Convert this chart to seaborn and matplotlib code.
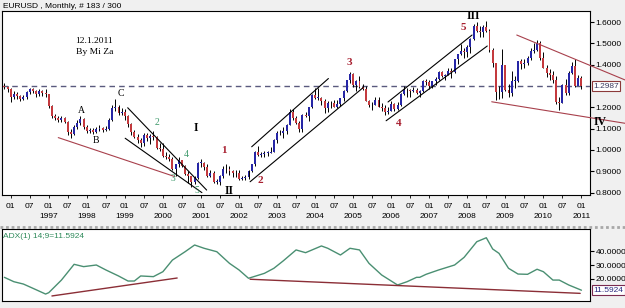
import numpy as np
import pandas as pd
import matplotlib
matplotlib.use("Agg")
import matplotlib.pyplot as plt
import matplotlib.transforms as mtransforms
from matplotlib.lines import Line2D
import seaborn as sns

# ---------------- data (monthly EURUSD, Nov 1995 .. Jan 2011) ----------------
first_open = 1.300
closes = [1.295, 1.285,
          1.250, 1.262, 1.255, 1.240, 1.248, 1.270, 1.285, 1.278, 1.262, 1.275, 1.268, 1.262,
          1.205, 1.160, 1.150, 1.140, 1.150, 1.130, 1.085, 1.075, 1.110, 1.125, 1.145, 1.110,
          1.090, 1.095, 1.082, 1.098, 1.105, 1.095, 1.100, 1.140, 1.195, 1.200, 1.175, 1.180,
          1.160, 1.120, 1.085, 1.060, 1.045, 1.035, 1.070, 1.055, 1.065, 1.060, 1.010, 1.005,
          0.970, 0.965, 0.957, 0.912, 0.933, 0.955, 0.925, 0.888, 0.880, 0.850, 0.870, 0.940,
          0.940, 0.922, 0.880, 0.890, 0.850, 0.850, 0.877, 0.912, 0.910, 0.903, 0.890, 0.890,
          0.862, 0.868, 0.872, 0.902, 0.933, 0.992, 0.975, 0.980, 0.986, 0.988, 0.992, 1.049,
          1.080, 1.078, 1.090, 1.118, 1.180, 1.150, 1.125, 1.100, 1.165, 1.160, 1.200, 1.259,
          1.245, 1.245, 1.230, 1.198, 1.220, 1.218, 1.202, 1.217, 1.242, 1.277, 1.327, 1.357,
          1.303, 1.324, 1.296, 1.287, 1.230, 1.210, 1.213, 1.233, 1.203, 1.199, 1.179, 1.184,
          1.216, 1.192, 1.211, 1.262, 1.283, 1.279, 1.276, 1.281, 1.267, 1.276, 1.324, 1.320,
          1.300, 1.323, 1.335, 1.366, 1.345, 1.353, 1.368, 1.365, 1.426, 1.449, 1.463, 1.459,
          1.485, 1.518, 1.579, 1.559, 1.555, 1.575, 1.560, 1.467, 1.408, 1.273, 1.270, 1.397,
          1.280, 1.266, 1.325, 1.325, 1.415, 1.404, 1.410, 1.433, 1.464, 1.471, 1.500, 1.432,
          1.386, 1.363, 1.351, 1.330, 1.227, 1.222, 1.305, 1.268, 1.363, 1.393, 1.300, 1.338,
          1.2987]
highs = [1.315, 1.300,
         1.290, 1.275, 1.270, 1.260, 1.258, 1.278, 1.292, 1.290, 1.282, 1.285, 1.282, 1.285,
         1.262, 1.210, 1.170, 1.160, 1.160, 1.155, 1.135, 1.100, 1.115, 1.140, 1.160, 1.150,
         1.115, 1.105, 1.102, 1.110, 1.115, 1.110, 1.112, 1.150, 1.210, 1.240, 1.210, 1.195,
         1.190, 1.165, 1.125, 1.095, 1.075, 1.055, 1.080, 1.080, 1.075, 1.090, 1.065, 1.035,
         1.035, 0.990, 0.980, 0.965, 0.935, 0.965, 0.955, 0.930, 0.900, 0.880, 0.880, 0.945,
         0.960, 0.945, 0.935, 0.905, 0.900, 0.865, 0.885, 0.925, 0.935, 0.925, 0.905, 0.905,
         0.905, 0.880, 0.885, 0.905, 0.935, 0.995, 1.020, 0.990, 0.995, 0.995, 1.015, 1.050,
         1.090, 1.093, 1.110, 1.120, 1.193, 1.190, 1.160, 1.135, 1.167, 1.180, 1.200, 1.262,
         1.290, 1.290, 1.250, 1.240, 1.230, 1.230, 1.235, 1.235, 1.245, 1.280, 1.330, 1.367,
         1.360, 1.330, 1.348, 1.310, 1.300, 1.235, 1.225, 1.250, 1.250, 1.220, 1.210, 1.200,
         1.230, 1.220, 1.225, 1.265, 1.298, 1.290, 1.285, 1.295, 1.290, 1.280, 1.330, 1.335,
         1.327, 1.325, 1.340, 1.368, 1.368, 1.355, 1.385, 1.385, 1.428, 1.450, 1.495, 1.477,
         1.490, 1.525, 1.590, 1.602, 1.580, 1.585, 1.603, 1.565, 1.480, 1.410, 1.300, 1.472,
         1.400, 1.310, 1.370, 1.346, 1.418, 1.425, 1.428, 1.440, 1.478, 1.503, 1.514, 1.510,
         1.458, 1.397, 1.378, 1.370, 1.345, 1.247, 1.310, 1.335, 1.370, 1.412, 1.425, 1.350,
         1.345]
lows = [1.285, 1.270,
        1.225, 1.240, 1.240, 1.228, 1.232, 1.240, 1.262, 1.265, 1.250, 1.255, 1.255, 1.250,
        1.198, 1.150, 1.140, 1.130, 1.132, 1.125, 1.070, 1.055, 1.070, 1.100, 1.115, 1.100,
        1.080, 1.078, 1.075, 1.080, 1.090, 1.085, 1.088, 1.092, 1.138, 1.185, 1.165, 1.165,
        1.140, 1.110, 1.070, 1.055, 1.035, 1.015, 1.020, 1.040, 1.030, 1.045, 1.005, 0.995,
        0.965, 0.960, 0.950, 0.905, 0.880, 0.920, 0.918, 0.885, 0.845, 0.825, 0.840, 0.865,
        0.920, 0.905, 0.875, 0.875, 0.845, 0.840, 0.835, 0.870, 0.890, 0.885, 0.875, 0.875,
        0.858, 0.860, 0.860, 0.865, 0.895, 0.925, 0.970, 0.965, 0.965, 0.970, 0.985, 0.990,
        1.035, 1.070, 1.055, 1.075, 1.115, 1.140, 1.120, 1.085, 1.085, 1.155, 1.135, 1.195,
        1.240, 1.235, 1.210, 1.175, 1.180, 1.195, 1.200, 1.195, 1.205, 1.230, 1.270, 1.315,
        1.295, 1.277, 1.290, 1.280, 1.228, 1.200, 1.187, 1.210, 1.200, 1.185, 1.164, 1.170,
        1.182, 1.185, 1.186, 1.205, 1.260, 1.250, 1.250, 1.270, 1.263, 1.250, 1.270, 1.305,
        1.287, 1.290, 1.305, 1.330, 1.340, 1.330, 1.350, 1.337, 1.360, 1.405, 1.445, 1.430,
        1.438, 1.455, 1.515, 1.551, 1.530, 1.530, 1.555, 1.460, 1.390, 1.233, 1.240, 1.245,
        1.275, 1.250, 1.255, 1.290, 1.320, 1.380, 1.385, 1.400, 1.420, 1.455, 1.464, 1.420,
        1.385, 1.343, 1.327, 1.315, 1.214, 1.188, 1.218, 1.260, 1.260, 1.358, 1.297, 1.310,
        1.286]
current_price = 1.2987

# ADX(14) readings (bar index, value)
adx_bar = [0, 3, 6, 9, 13, 14, 18, 22, 25, 29, 32, 36, 39, 41, 43, 47, 50, 53, 57, 60,
           63, 67, 71, 74, 77, 82, 85, 88, 92, 95, 100, 102, 106, 109, 112, 115, 119, 124, 127, 130,
           131, 133, 137, 142, 145, 149, 152, 154, 156, 159, 162, 165, 168, 170, 173, 175, 178, 182]
adx_val = [21.0, 17.8, 16.1, 13.0, 8.8, 9.8, 19.0, 30.5, 28.8, 30.0,
           26.4, 22.0, 18.3, 18.3, 22.0, 21.5, 25.1, 33.6, 39.7, 44.6,
           42.2, 39.7, 31.2, 26.4, 20.3, 23.9, 27.6, 33.1, 41.0, 39.0,
           43.9, 42.2, 37.3, 42.2, 41.0, 31.2, 22.7, 15.4, 17.8, 21.0,
           21.0, 23.2, 26.4, 30.0, 35.6, 47.0, 49.9, 41.7, 38.5, 27.6,
           23.4, 23.2, 26.9, 25.1, 19.0, 19.0, 15.4, 11.6]
adx_last = 11.5924

# hand-drawn trend lines: (bar0, price0, bar1, price1, colour-key)
main_lines = [(17.0, 1.058, 53.8, 0.875, "brown"),
              (38.9, 1.198, 63.8, 0.812, "black"),
              (38.1, 1.055, 62.3, 0.800, "black"),
              (78.0, 1.015, 102.2, 1.335, "black"),
              (77.5, 0.851, 113.2, 1.293, "black"),
              (121.0, 1.225, 147.5, 1.539, "black"),
              (120.4, 1.137, 152.3, 1.4875, "black"),
              (161.6, 1.539, 195.8, 1.328, "brown"),
              (153.7, 1.226, 195.8, 1.125, "brown")]
adx_lines = [(15.0, 7.4, 54.5, 20.5), (77.5, 19.6, 181.6, 9.3)]

# wave labels: (text, bar, price, style)
wave_labels = [("12.1.2011", 28.3, 1.512, "note"), ("By Mi Za", 28.6, 1.458, "note"),
               ("A", 24.2, 1.183, "abc"), ("B", 28.8, 1.0435, "abc"), ("C", 36.8, 1.2625, "abc"),
               ("I", 60.4, 1.1045, "roman"), ("II", 70.8, 0.806, "roman"),
               ("III", 147.9, 1.626, "roman"), ("IV", 187.9, 1.133, "roman"),
               ("2", 48.1, 1.130, "green"), ("3", 53.3, 0.867, "green"),
               ("4", 57.3, 0.981, "green"), ("5", 60.7, 0.809, "green"),
               ("1", 69.3, 0.997, "red"), ("2", 80.6, 0.859, "red"), ("3", 108.8, 1.411, "red"),
               ("4", 124.3, 1.122, "red"), ("5", 144.8, 1.572, "red")]

price_ticks = [0.8, 0.9, 1.0, 1.1, 1.2, 1.4, 1.5, 1.6]
adx_ticks = [20, 30, 40]

# ---------------- styling ----------------
sns.set_style("white")
plt.rcParams['font.family'] = ['Liberation Sans', 'DejaVu Sans']

BG = "#f0f0f0"
UP = "#2626a6"
DOWN = "#c43a3e"
BROWN = "#a8404c"
GREEN_TXT = "#3f9a6c"
RED_TXT = "#a82030"

n = len(closes)
opens = [first_open] + closes[:-1]
df = pd.DataFrame({"bar": np.arange(n),
                   "date": pd.date_range("1995-11-01", periods=n, freq="MS"),
                   "open": opens, "high": highs, "low": lows, "close": closes})
df["up"] = df["close"] >= df["open"]

W, H = 625, 308
fig = plt.figure(figsize=(W / 100, H / 100), dpi=100, facecolor=BG)


def box(l, t, r, b):
    return [l / W, 1 - b / H, (r - l) / W, (b - t) / H]


ax = fig.add_axes(box(2, 11, 590, 195))
ax2 = fig.add_axes(box(2, 229, 590, 301))
for a in (ax, ax2):
    a.set_facecolor("white")
    for s in a.spines.values():
        s.set_color("black")
        s.set_linewidth(0.8)

# ---------------- candles ----------------
ax.vlines(df["bar"], df["low"], df["high"], color="black", lw=0.7, zorder=2)
body_lo = np.minimum(df["open"], df["close"])
body_h = np.maximum(np.abs(df["close"] - df["open"]), 0.003)
ax.bar(df["bar"], body_h, bottom=body_lo, width=0.62,
       color=np.where(df["up"], UP, DOWN), linewidth=0, zorder=3)

ax.axhline(current_price, color="#5a5a7e", lw=1.0, ls=(0, (4, 3)), zorder=1)

for b0, p0, b1, p1, c in main_lines:
    ax.plot([b0, b1], [p0, p1], color=BROWN if c == "brown" else "black",
            lw=0.8, clip_on=False, zorder=4)

styles = {
    "note": dict(family=["Liberation Serif", "DejaVu Serif"], fontsize=6.8, color="black"),
    "abc": dict(family=["Liberation Serif", "DejaVu Serif"], fontsize=7, color="black"),
    "roman": dict(family=["Liberation Serif", "DejaVu Serif"], fontsize=8.5, color="black",
                  fontweight="bold"),
    "green": dict(family=["Liberation Serif", "DejaVu Serif"], fontsize=7, color=GREEN_TXT),
    "red": dict(family=["Liberation Serif", "DejaVu Serif"], fontsize=8, color=RED_TXT,
                fontweight="bold"),
}
for txt, b, p, st in wave_labels:
    ax.text(b, p, txt, ha="center", va="center", clip_on=False, zorder=6, **styles[st])

ax.set_xlim(-0.745, 184.7)
ax.set_ylim(0.7889, 1.6516)

# y axis on the right
ax.yaxis.tick_right()
ax.set_yticks(price_ticks)
ax.set_yticklabels([f"{v:.4f}" for v in price_ticks])
ax.tick_params(axis="y", which="both", right=True, left=False, direction="out",
               length=3, width=0.8, pad=1, labelsize=6, colors="black")
trans = mtransforms.blended_transform_factory(ax.transAxes, ax.transData)
ax.text(1.0055, current_price, f"{current_price:.4f}", transform=trans, ha="left", va="center",
        fontsize=6, color="#3a3a60",
        bbox=dict(boxstyle="square,pad=0.18", fc="white", ec="#8b3a3a", lw=0.8), zorder=7)

# x axis ticks: Jan / Jul
tick_pos, tick_lab = [], []
for b, d in zip(df["bar"], df["date"]):
    if d.year >= 1996 and d.month in (1, 7):
        tick_pos.append(b)
        lab = f"{d.month:02d}"
        if d.month == 1 and d.year >= 1997:
            lab += f"\n{d.year}"
        tick_lab.append(lab)
ax.set_xticks(tick_pos)
ax.set_xticklabels(tick_lab, linespacing=1.7)
ax.tick_params(axis="x", bottom=True, direction="out", length=2, width=0.6, pad=3.5,
               labelsize=6, colors="black")
ax.set_xlabel("")
ax.set_ylabel("")

# ---------------- ADX panel ----------------
sns.lineplot(x=adx_bar, y=adx_val, ax=ax2, color="#4a8f72", lw=1.0)
for b0, v0, b1, v1 in adx_lines:
    ax2.plot([b0, b1], [v0, v1], color="#8b2e36", lw=1.0)
ax2.set_xlim(-0.745, 184.7)
ax2.set_ylim(3.72, 56.28)
ax2.set_xticks([])
ax2.yaxis.tick_right()
ax2.set_yticks(adx_ticks)
ax2.set_yticklabels([f"{v:.4f}" for v in adx_ticks])
ax2.tick_params(axis="y", right=True, left=False, direction="out", length=3, width=0.8,
                pad=1, labelsize=6, colors="black")
ax2.set_xlabel("")
ax2.set_ylabel("")
trans2 = mtransforms.blended_transform_factory(ax2.transAxes, ax2.transData)
ax2.text(1.0055, adx_last, f"{adx_last:.4f}", transform=trans2, ha="left", va="center",
         fontsize=6, color="#2a2a80",
         bbox=dict(boxstyle="square,pad=0.18", fc="white", ec="#7a2a50", lw=0.8), zorder=7)
ax2.text(0.002, 0.9, f"ADX(1) 14;9={adx_last:.4f}", transform=ax2.transAxes,
         ha="left", va="center", fontsize=6, color="#2e8a5a")

# ---------------- chrome ----------------
fig.text(3 / W, 1 - 6 / H, "EURUSD , Monthly, # 183 / 300", ha="left", va="center",
         fontsize=6, color="black")
fig.add_artist(Line2D([0, 1], [1 - 226.5 / H] * 2, transform=fig.transFigure,
                      color="#a8a8a8", lw=2.0, ls=(0, (1, 1))))

fig.savefig("out.png", dpi=100, facecolor=BG)
